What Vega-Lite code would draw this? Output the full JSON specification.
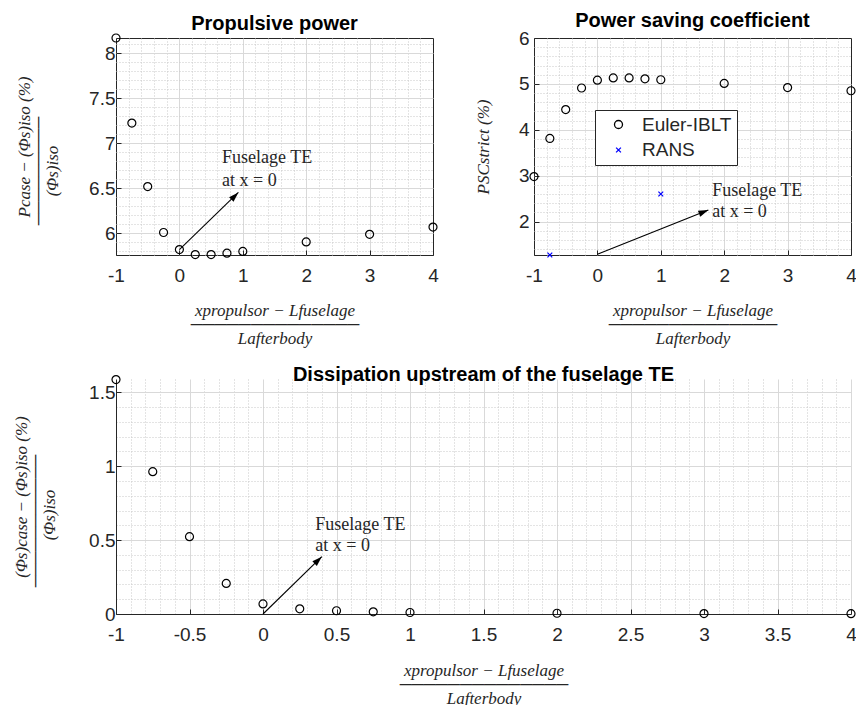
{
  "$schema": "https://vega.github.io/schema/vega-lite/v6.json",
  "background": "white",
  "padding": {"left": 12, "top": 10, "right": 0, "bottom": 0},
  "datasets": {
    "prop": [
      {"x": -1, "y": 8.17}, {"x": -0.75, "y": 7.225}, {"x": -0.5, "y": 6.52}, {"x": -0.25, "y": 6.01},
      {"x": 0, "y": 5.82}, {"x": 0.25, "y": 5.765}, {"x": 0.5, "y": 5.765}, {"x": 0.75, "y": 5.78},
      {"x": 1, "y": 5.8}, {"x": 2, "y": 5.905}, {"x": 3, "y": 5.99}, {"x": 4, "y": 6.07}
    ],
    "psc": [
      {"x": -1, "y": 2.98, "series": "Euler-IBLT"}, {"x": -0.75, "y": 3.81, "series": "Euler-IBLT"},
      {"x": -0.5, "y": 4.44, "series": "Euler-IBLT"}, {"x": -0.25, "y": 4.91, "series": "Euler-IBLT"},
      {"x": 0, "y": 5.08, "series": "Euler-IBLT"}, {"x": 0.25, "y": 5.13, "series": "Euler-IBLT"},
      {"x": 0.5, "y": 5.13, "series": "Euler-IBLT"}, {"x": 0.75, "y": 5.11, "series": "Euler-IBLT"},
      {"x": 1, "y": 5.09, "series": "Euler-IBLT"}, {"x": 2, "y": 5.01, "series": "Euler-IBLT"},
      {"x": 3, "y": 4.92, "series": "Euler-IBLT"}, {"x": 4, "y": 4.85, "series": "Euler-IBLT"},
      {"x": -0.75, "y": 1.27, "series": "RANS"}, {"x": 1, "y": 2.6, "series": "RANS"}
    ],
    "diss": [
      {"x": -1, "y": 1.586}, {"x": -0.75, "y": 0.963}, {"x": -0.5, "y": 0.523}, {"x": -0.25, "y": 0.207},
      {"x": 0, "y": 0.068}, {"x": 0.25, "y": 0.035}, {"x": 0.5, "y": 0.022}, {"x": 0.75, "y": 0.015},
      {"x": 1, "y": 0.01}, {"x": 2, "y": 0.005}, {"x": 3, "y": 0.003}, {"x": 4, "y": 0.002}
    ],
    "arrows": [
      {"panel": "prop", "x": 0, "y": 5.82, "x2": 0.93, "y2": 6.455},
      {"panel": "psc", "x": 0, "y": 1.285, "x2": 1.75, "y2": 2.25},
      {"panel": "diss", "x": 0, "y": 0, "x2": 0.4, "y2": 0.388}
    ],
    "heads": [
      {"panel": "prop", "x": 0.93, "y": 6.455},
      {"panel": "psc", "x": 1.75, "y": 2.25},
      {"panel": "diss", "x": 0.4, "y": 0.388}
    ],
    "labels": [
      {"panel": "prop", "x": 0.672, "y": 6.84, "text": "Fuselage TE"},
      {"panel": "prop", "x": 0.672, "y": 6.585, "text": "at x = 0"},
      {"panel": "psc", "x": 1.81, "y": 2.67, "text": "Fuselage TE"},
      {"panel": "psc", "x": 1.81, "y": 2.2, "text": "at x = 0"},
      {"panel": "diss", "x": 0.356, "y": 0.605, "text": "Fuselage TE"},
      {"panel": "diss", "x": 0.356, "y": 0.463, "text": "at x = 0"}
    ]
  },
  "bounds": "full",
  "spacing": 18,
  "resolve": {"scale": {"color": "independent", "shape": "independent"}, "legend": {"color": "independent", "shape": "independent"}},
  "vconcat": [
    {
      "bounds": "flush",
      "spacing": 101,
      "resolve": {"scale": {"color": "independent", "shape": "independent"}, "legend": {"color": "independent", "shape": "independent"}},
      "hconcat": [
        {
          "width": 317, "height": 217,
          "title": {"text": "Propulsive power", "offset": -2},
          "encoding": {
            "x": {"field": "x", "type": "quantitative", "scale": {"domain": [-1, 4], "nice": false, "zero": false},
              "axis": {
                "values": [-1, -0.8, -0.6, -0.4, -0.2, 0, 0.2, 0.4, 0.6, 0.8, 1, 1.2, 1.4, 1.6, 1.8, 2, 2.2, 2.4, 2.6, 2.8, 3, 3.2, 3.4, 3.6, 3.8, 4],
                "labelExpr": "abs(datum.value - round(datum.value)) < 1e-6 ? toString(datum.value) : ''",
                "gridDash": {"condition": {"test": "abs(datum.value - round(datum.value)) > 1e-6", "value": [1, 2]}, "value": []},
                "gridColor": {"condition": {"test": "abs(datum.value - round(datum.value)) > 1e-6", "value": "#c8c8c8"}, "value": "#d9d9d9"},
                "gridOpacity": {"condition": {"test": "datum.value <= -1 || datum.value >= 4", "value": 0}, "value": 1},
                "tickOpacity": {"condition": {"test": "abs(datum.value - round(datum.value)) > 1e-6", "value": 0}, "value": 1},
                "title": ["xpropulsor − Lfuselage", "──────────────", "Lafterbody"],
                "labelPadding": 16,
                "titlePadding": 17
              }},
            "y": {"field": "y", "type": "quantitative", "scale": {"domain": [5.76, 8.17], "nice": false, "zero": false},
              "axis": {
                "values": [5.8, 5.9, 6, 6.1, 6.2, 6.3, 6.4, 6.5, 6.6, 6.7, 6.8, 6.9, 7, 7.1, 7.2, 7.3, 7.4, 7.5, 7.6, 7.7, 7.8, 7.9, 8, 8.1],
                "labelExpr": "abs(datum.value*2 - round(datum.value*2)) < 1e-6 ? toString(datum.value) : ''",
                "gridDash": {"condition": {"test": "abs(datum.value*2 - round(datum.value*2)) > 1e-6", "value": [1, 2]}, "value": []},
                "gridColor": {"condition": {"test": "abs(datum.value*2 - round(datum.value*2)) > 1e-6", "value": "#c8c8c8"}, "value": "#d9d9d9"},
                "tickOpacity": {"condition": {"test": "abs(datum.value*2 - round(datum.value*2)) > 1e-6", "value": 0}, "value": 1},
                "title": ["Pcase − (Φs)iso (%)", "─────────\u2800\u2800\u2800\u2800", "(Φs)iso\u2800\u2800\u2800\u2800"],
                "titlePadding": 27
              }}
          },
          "layer": [
            {"data": {"name": "prop"}, "mark": {"type": "point", "shape": "circle", "filled": false, "color": "#000000", "size": 64, "strokeWidth": 1.2, "opacity": 1, "clip": false}},
            {"data": {"name": "arrows"}, "transform": [{"filter": "datum.panel === 'prop'"}], "mark": {"type": "rule", "color": "#000000", "strokeWidth": 1.1}, "encoding": {"x2": {"field": "x2"}, "y2": {"field": "y2"}}},
            {"data": {"name": "heads"}, "transform": [{"filter": "datum.panel === 'prop'"}], "mark": {"type": "point", "shape": "M0,0L-0.35,1.1L0.35,1.1Z", "filled": true, "color": "#000000", "size": 330, "angle": 45, "opacity": 1}},
            {"data": {"name": "labels"}, "transform": [{"filter": "datum.panel === 'prop'"}], "mark": {"type": "text", "align": "left", "baseline": "middle", "font": "Liberation Serif", "fontSize": 18, "color": "#262626"}, "encoding": {"text": {"field": "text"}}}
          ]
        },
        {
          "width": 317, "height": 217,
          "title": {"text": "Power saving coefficient", "offset": -2},
          "encoding": {
            "x": {"field": "x", "type": "quantitative", "scale": {"domain": [-1, 4], "nice": false, "zero": false},
              "axis": {
                "values": [-1, -0.8, -0.6, -0.4, -0.2, 0, 0.2, 0.4, 0.6, 0.8, 1, 1.2, 1.4, 1.6, 1.8, 2, 2.2, 2.4, 2.6, 2.8, 3, 3.2, 3.4, 3.6, 3.8, 4],
                "labelExpr": "abs(datum.value - round(datum.value)) < 1e-6 ? toString(datum.value) : ''",
                "gridDash": {"condition": {"test": "abs(datum.value - round(datum.value)) > 1e-6", "value": [1, 2]}, "value": []},
                "gridColor": {"condition": {"test": "abs(datum.value - round(datum.value)) > 1e-6", "value": "#c8c8c8"}, "value": "#d9d9d9"},
                "gridOpacity": {"condition": {"test": "datum.value <= -1 || datum.value >= 4", "value": 0}, "value": 1},
                "tickOpacity": {"condition": {"test": "abs(datum.value - round(datum.value)) > 1e-6", "value": 0}, "value": 1},
                "title": ["xpropulsor − Lfuselage", "──────────────", "Lafterbody"],
                "labelPadding": 16,
                "titlePadding": 17
              }},
            "y": {"field": "y", "type": "quantitative", "scale": {"domain": [1.27, 6], "nice": false, "zero": false},
              "axis": {
                "values": [1.4, 1.6, 1.8, 2, 2.2, 2.4, 2.6, 2.8, 3, 3.2, 3.4, 3.6, 3.8, 4, 4.2, 4.4, 4.6, 4.8, 5, 5.2, 5.4, 5.6, 5.8, 6],
                "labelExpr": "abs(datum.value - round(datum.value)) < 1e-6 ? toString(datum.value) : ''",
                "gridDash": {"condition": {"test": "abs(datum.value - round(datum.value)) > 1e-6", "value": [1, 2]}, "value": []},
                "gridColor": {"condition": {"test": "abs(datum.value - round(datum.value)) > 1e-6", "value": "#c8c8c8"}, "value": "#d9d9d9"},
                "gridOpacity": {"condition": {"test": "datum.value >= 6", "value": 0}, "value": 1},
                "tickOpacity": {"condition": {"test": "abs(datum.value - round(datum.value)) > 1e-6", "value": 0}, "value": 1},
                "title": "PSCstrict (%)",
                "labelPadding": 10,
                "titlePadding": 26
              }}
          },
          "layer": [
            {"data": {"name": "psc"}, "mark": {"type": "point", "filled": false, "size": 64, "strokeWidth": 1.2, "opacity": 1, "clip": false},
              "encoding": {
                "color": {"field": "series", "type": "nominal", "scale": {"domain": ["Euler-IBLT", "RANS"], "range": ["#000000", "#0000ff"]},
                  "legend": {"orient": "none", "legendX": 61, "legendY": 72, "title": null, "direction": "vertical"}},
                "shape": {"field": "series", "type": "nominal", "scale": {"domain": ["Euler-IBLT", "RANS"], "range": ["circle", "M-0.6,-0.6L0.6,0.6M-0.6,0.6L0.6,-0.6"]},
                  "legend": {"orient": "none", "legendX": 61, "legendY": 72, "title": null, "direction": "vertical"}}
              }},
            {"data": {"name": "arrows"}, "transform": [{"filter": "datum.panel === 'psc'"}], "mark": {"type": "rule", "color": "#000000", "strokeWidth": 1.1}, "encoding": {"x2": {"field": "x2"}, "y2": {"field": "y2"}}},
            {"data": {"name": "heads"}, "transform": [{"filter": "datum.panel === 'psc'"}], "mark": {"type": "point", "shape": "M0,0L-0.35,1.1L0.35,1.1Z", "filled": true, "color": "#000000", "size": 330, "angle": 68, "opacity": 1}},
            {"data": {"name": "labels"}, "transform": [{"filter": "datum.panel === 'psc'"}], "mark": {"type": "text", "align": "left", "baseline": "middle", "font": "Liberation Serif", "fontSize": 18, "color": "#262626"}, "encoding": {"text": {"field": "text"}}}
          ]
        }
      ]
    },
    {
      "width": 735, "height": 235,
      "view": {"stroke": null},
      "title": {"text": "Dissipation upstream of the fuselage TE", "offset": -12},
      "encoding": {
        "x": {"field": "x", "type": "quantitative", "scale": {"domain": [-1, 4], "nice": false, "zero": false},
          "axis": {
            "values": [-1, -0.9, -0.8, -0.7, -0.6, -0.5, -0.4, -0.3, -0.2, -0.1, 0, 0.1, 0.2, 0.3, 0.4, 0.5, 0.6, 0.7, 0.8, 0.9, 1, 1.1, 1.2, 1.3, 1.4, 1.5, 1.6, 1.7, 1.8, 1.9, 2, 2.1, 2.2, 2.3, 2.4, 2.5, 2.6, 2.7, 2.8, 2.9, 3, 3.1, 3.2, 3.3, 3.4, 3.5, 3.6, 3.7, 3.8, 3.9, 4],
            "labelExpr": "abs(datum.value*2 - round(datum.value*2)) < 1e-6 ? toString(datum.value) : ''",
            "gridDash": {"condition": {"test": "abs(datum.value*2 - round(datum.value*2)) > 1e-6", "value": [1, 2]}, "value": []},
            "gridColor": {"condition": {"test": "abs(datum.value*2 - round(datum.value*2)) > 1e-6", "value": "#c8c8c8"}, "value": "#d9d9d9"},
            "gridOpacity": {"condition": {"test": "datum.value <= -1", "value": 0}, "value": 1},
            "tickOpacity": {"condition": {"test": "abs(datum.value*2 - round(datum.value*2)) > 1e-6", "value": 0}, "value": 1},
            "domain": true,
            "title": ["xpropulsor − Lfuselage", "──────────────", "Lafterbody"],
            "labelPadding": 16,
            "titlePadding": 18
          }},
        "y": {"field": "y", "type": "quantitative", "scale": {"domain": [0, 1.59], "nice": false, "zero": false},
          "axis": {
            "values": [0, 0.1, 0.2, 0.3, 0.4, 0.5, 0.6, 0.7, 0.8, 0.9, 1, 1.1, 1.2, 1.3, 1.4, 1.5],
            "labelExpr": "abs(datum.value*2 - round(datum.value*2)) < 1e-6 ? toString(datum.value) : ''",
            "gridDash": {"condition": {"test": "abs(datum.value*2 - round(datum.value*2)) > 1e-6", "value": [1, 2]}, "value": []},
            "gridColor": {"condition": {"test": "abs(datum.value*2 - round(datum.value*2)) > 1e-6", "value": "#c8c8c8"}, "value": "#d9d9d9"},
            "gridOpacity": {"condition": {"test": "datum.value <= 0", "value": 0}, "value": 1},
            "tickOpacity": {"condition": {"test": "abs(datum.value*2 - round(datum.value*2)) > 1e-6", "value": 0}, "value": 1},
            "domain": true,
            "title": ["(Φs)case − (Φs)iso (%)", "───────────\u2800\u2800\u2800\u2800", "(Φs)iso\u2800\u2800\u2800"],
            "titlePadding": 30
          }}
      },
      "layer": [
        {"data": {"name": "diss"}, "mark": {"type": "point", "shape": "circle", "filled": false, "color": "#000000", "size": 64, "strokeWidth": 1.2, "opacity": 1, "clip": false}},
        {"data": {"name": "arrows"}, "transform": [{"filter": "datum.panel === 'diss'"}], "mark": {"type": "rule", "color": "#000000", "strokeWidth": 1.1}, "encoding": {"x2": {"field": "x2"}, "y2": {"field": "y2"}}},
        {"data": {"name": "heads"}, "transform": [{"filter": "datum.panel === 'diss'"}], "mark": {"type": "point", "shape": "M0,0L-0.35,1.1L0.35,1.1Z", "filled": true, "color": "#000000", "size": 330, "angle": 46, "opacity": 1}},
        {"data": {"name": "labels"}, "transform": [{"filter": "datum.panel === 'diss'"}], "mark": {"type": "text", "align": "left", "baseline": "middle", "font": "Liberation Serif", "fontSize": 18, "color": "#262626"}, "encoding": {"text": {"field": "text"}}}
      ]
    }
  ],
  "config": {
    "font": "Liberation Sans",
    "view": {"stroke": "#262626", "strokeWidth": 1},
    "axis": {
      "labelFont": "Liberation Sans", "labelFontSize": 19, "labelColor": "#262626",
      "labelFlush": false, "labelOverlap": false, "labelPadding": 6,
      "titleFont": "Liberation Serif", "titleFontSize": 17, "titleFontStyle": "italic", "titleFontWeight": "normal", "titleColor": "#262626", "titleLineHeight": 14,
      "tickColor": "#262626", "tickSize": -5, "tickWidth": 1,
      "domain": false, "domainColor": "#262626", "domainWidth": 1,
      "grid": true, "gridWidth": 1
    },
    "title": {"font": "Liberation Sans", "fontSize": 20, "fontWeight": "bold", "color": "#000000"},
    "legend": {
      "labelFont": "Liberation Sans", "labelFontSize": 19, "labelColor": "#262626",
      "strokeColor": "#262626", "fillColor": "white", "padding": 5, "rowPadding": 5.5,
      "symbolOffset": 9, "labelOffset": 14, "symbolStrokeWidth": 1.3, "symbolSize": 64
    }
  }
}
